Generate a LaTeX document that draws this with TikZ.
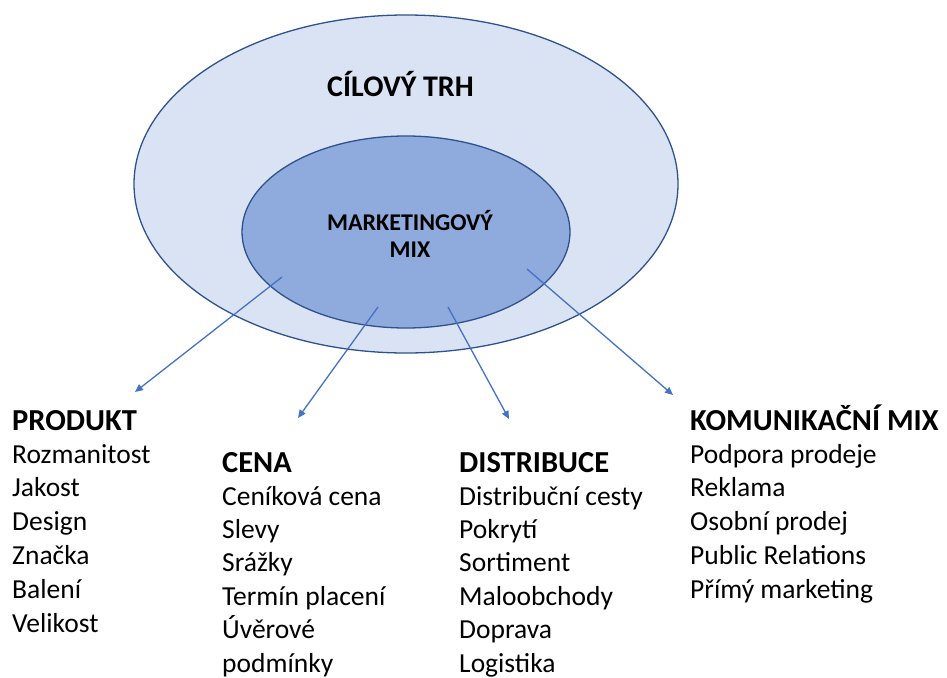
\documentclass[tikz,border=0pt]{standalone}
\usepackage{fontspec}
\setmainfont{Carlito}
\usetikzlibrary{arrows.meta,shapes.geometric}
\definecolor{outerfill}{HTML}{DAE3F3}
\definecolor{innerfill}{HTML}{8FAADC}
\definecolor{edgeblue}{HTML}{2F528F}
\definecolor{arrowblue}{HTML}{4472C4}
\tikzset{
  ring/.style={ellipse, draw=edgeblue, line width=1.3pt, inner sep=0pt},
  arr/.style={draw=arrowblue, line width=1.3pt, -{Triangle[length=8pt,width=7pt]}},
  head/.style={anchor=base west, inner sep=0pt, font=\bfseries\fontsize{30.5}{36}\selectfont},
  item/.style={anchor=base west, inner sep=0pt, font=\fontsize{27.5}{34}\selectfont},
  centretitle/.style={anchor=base, inner sep=0pt, font=\bfseries\fontsize{30}{36}\selectfont},
  mixtitle/.style={anchor=base, inner sep=0pt, font=\bfseries\fontsize{24}{29}\selectfont}
}
\begin{document}
\begin{tikzpicture}[x=1pt,y=-1pt]
\useasboundingbox (0,0) rectangle (947,677);
\node[ring, fill=outerfill, minimum width=544pt, minimum height=338pt] (outer) at (406,184) {};
\node[ring, fill=innerfill, minimum width=328pt, minimum height=192pt] (inner) at (406,232) {};
\node[centretitle] (title) at (400.5,96) {CÍLOVÝ TRH};
\node[mixtitle] (mix1) at (410,230) {MARKETINGOVÝ};
\node[mixtitle] (mix2) at (410,257) {MIX};
% arrows
\coordinate (s1) at (282,277); \coordinate (e1) at (135,392);
\coordinate (s2) at (378,307); \coordinate (e2) at (298,418);
\coordinate (s3) at (448,307); \coordinate (e3) at (509,419);
\coordinate (s4) at (527,269); \coordinate (e4) at (673,395);
\draw[arr] (s1) -- (e1);
\draw[arr] (s2) -- (e2);
\draw[arr] (s3) -- (e3);
\draw[arr] (s4) -- (e4);
% columns
\node[head] (hp) at (12,430) {PRODUKT};
\foreach \t [count=\i] in {Rozmanitost,Jakost,Design,Značka,Balení,Velikost}
  \node[item] (p\i) at (12,{463+33.8*(\i-1)}) {\t};
\node[head] (hc) at (222,472) {CENA};
\foreach \t [count=\i] in {Ceníková cena,Slevy,Srážky,Termín placení,Úvěrové,podmínky}
  \node[item] (c\i) at (222,{505+33.4*(\i-1)}) {\t};
\node[head] (hd) at (459,472) {DISTRIBUCE};
\foreach \t [count=\i] in {Distribuční cesty,Pokrytí,Sortiment,Maloobchody,Doprava,Logistika}
  \node[item] (d\i) at (459,{505+33.4*(\i-1)}) {\t};
\node[head] (hk) at (690,430) {KOMUNIKAČNÍ MIX};
\foreach \t [count=\i] in {Podpora prodeje,Reklama,Osobní prodej,Public Relations,Přímý marketing}
  \node[item] (k\i) at (690,{463+33.8*(\i-1)}) {\t};
\end{tikzpicture}
\end{document}
